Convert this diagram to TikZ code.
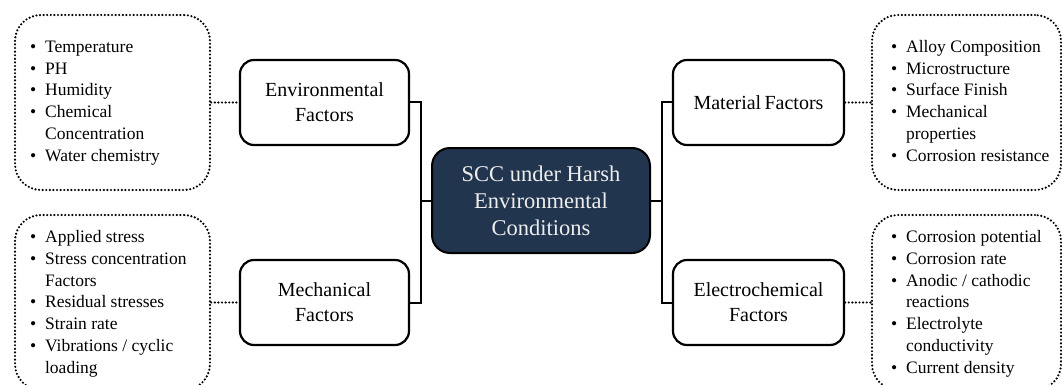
\documentclass[tikz,border=0pt]{standalone}
\usepackage{fontspec}
\setmainfont{Liberation Serif}
\definecolor{navy}{HTML}{22354E}
\definecolor{paletext}{HTML}{EDEDED}
\newcommand{\lst}[1]{\fontsize{17.5}{21.8}\selectfont\begin{tabular}{@{}l@{\hspace{9pt}}l@{}}#1\end{tabular}}
\tikzset{
  factorbox/.style={draw, line width=2.2pt, rounded corners=14pt, minimum height=85pt,
    align=center, font=\fontsize{20}{25}\selectfont, inner sep=0pt},
  mainbox/.style={draw, fill=navy, text=paletext, line width=2pt, rounded corners=18pt,
    minimum width=218pt, minimum height=105pt, align=center,
    font=\fontsize{22.5}{27}\selectfont, inner sep=0pt},
  listbox/.style={draw, line width=2.4pt, dash pattern=on 0pt off 3.6pt, line cap=round,
    rounded corners=26pt, minimum height=175pt, inner sep=0pt},
  listtext/.style={anchor=west, inner sep=0pt, align=left},
  conn/.style={line width=2pt},
  dotconn/.style={line width=2.4pt, dash pattern=on 0pt off 3.6pt, line cap=round},
}
\begin{document}
\begin{tikzpicture}[x=1pt,y=-1pt]
\useasboundingbox (0,0) rectangle (1062,385);
% list boxes
\node[listbox, minimum width=195pt] (envL) at (112.5,102.5) {};
\node[listbox, minimum width=195pt] (mechL) at (112.5,302.5) {};
\node[listbox, minimum width=189pt] (matR) at (966.5,102.5) {};
\node[listbox, minimum width=189pt] (elecR) at (966.5,302.5) {};
% list texts
\node[listtext] (envT) at ([xshift=16pt]envL.west) {\lst{%
\textbullet & Temperature\\
\textbullet & PH\\
\textbullet & Humidity\\
\textbullet & Chemical\\
 & Concentration\\
\textbullet & Water chemistry}};
\node[listtext] (mechT) at ([xshift=16pt,yshift=-1pt]mechL.west) {\lst{%
\textbullet & Applied stress\\
\textbullet & Stress concentration\\
 & Factors\\
\textbullet & Residual stresses\\
\textbullet & Strain rate\\
\textbullet & Vibrations / cyclic\\
 & loading}};
\node[listtext] (matT) at ([xshift=20pt]matR.west) {\lst{%
\textbullet & Alloy Composition\\
\textbullet & Microstructure\\
\textbullet & Surface Finish\\
\textbullet & Mechanical\\
 & properties\\
\textbullet & Corrosion resistance}};
\node[listtext] (elecT) at ([xshift=20pt,yshift=-1pt]elecR.west) {\lst{%
\textbullet & Corrosion potential\\
\textbullet & Corrosion rate\\
\textbullet & Anodic / cathodic\\
 & reactions\\
\textbullet & Electrolyte\\
 & conductivity\\
\textbullet & Current density}};
% factor boxes
\node[factorbox, minimum width=169pt] (env) at (324.5,102.5) {Environmental\\Factors};
\node[factorbox, minimum width=169pt] (mech) at (324.5,302.5) {Mechanical\\Factors};
\node[factorbox, minimum width=171pt] (mat) at (758.5,102.5) {Material\,Factors};
\node[factorbox, minimum width=171pt] (elec) at (758.5,302.5) {Electrochemical\\Factors};
% main box
\node[mainbox] (main) at (541,200.5) {SCC under Harsh\\Environmental\\Conditions};
% junctions
\coordinate (jl) at (421,200.5);
\coordinate (jr) at (662,200.5);
% connectors
\draw[conn] (env.east) -| (jl) |- (mech.east);
\draw[conn] (jl) -- (main.west);
\draw[conn] (mat.west) -| (jr) |- (elec.west);
\draw[conn] (jr) -- (main.east);
\draw[dotconn] (envL.east) -- (env.west);
\draw[dotconn] (mechL.east) -- (mech.west);
\draw[dotconn] (mat.east) -- (matR.west);
\draw[dotconn] (elec.east) -- (elecR.west);
\end{tikzpicture}
\end{document}
